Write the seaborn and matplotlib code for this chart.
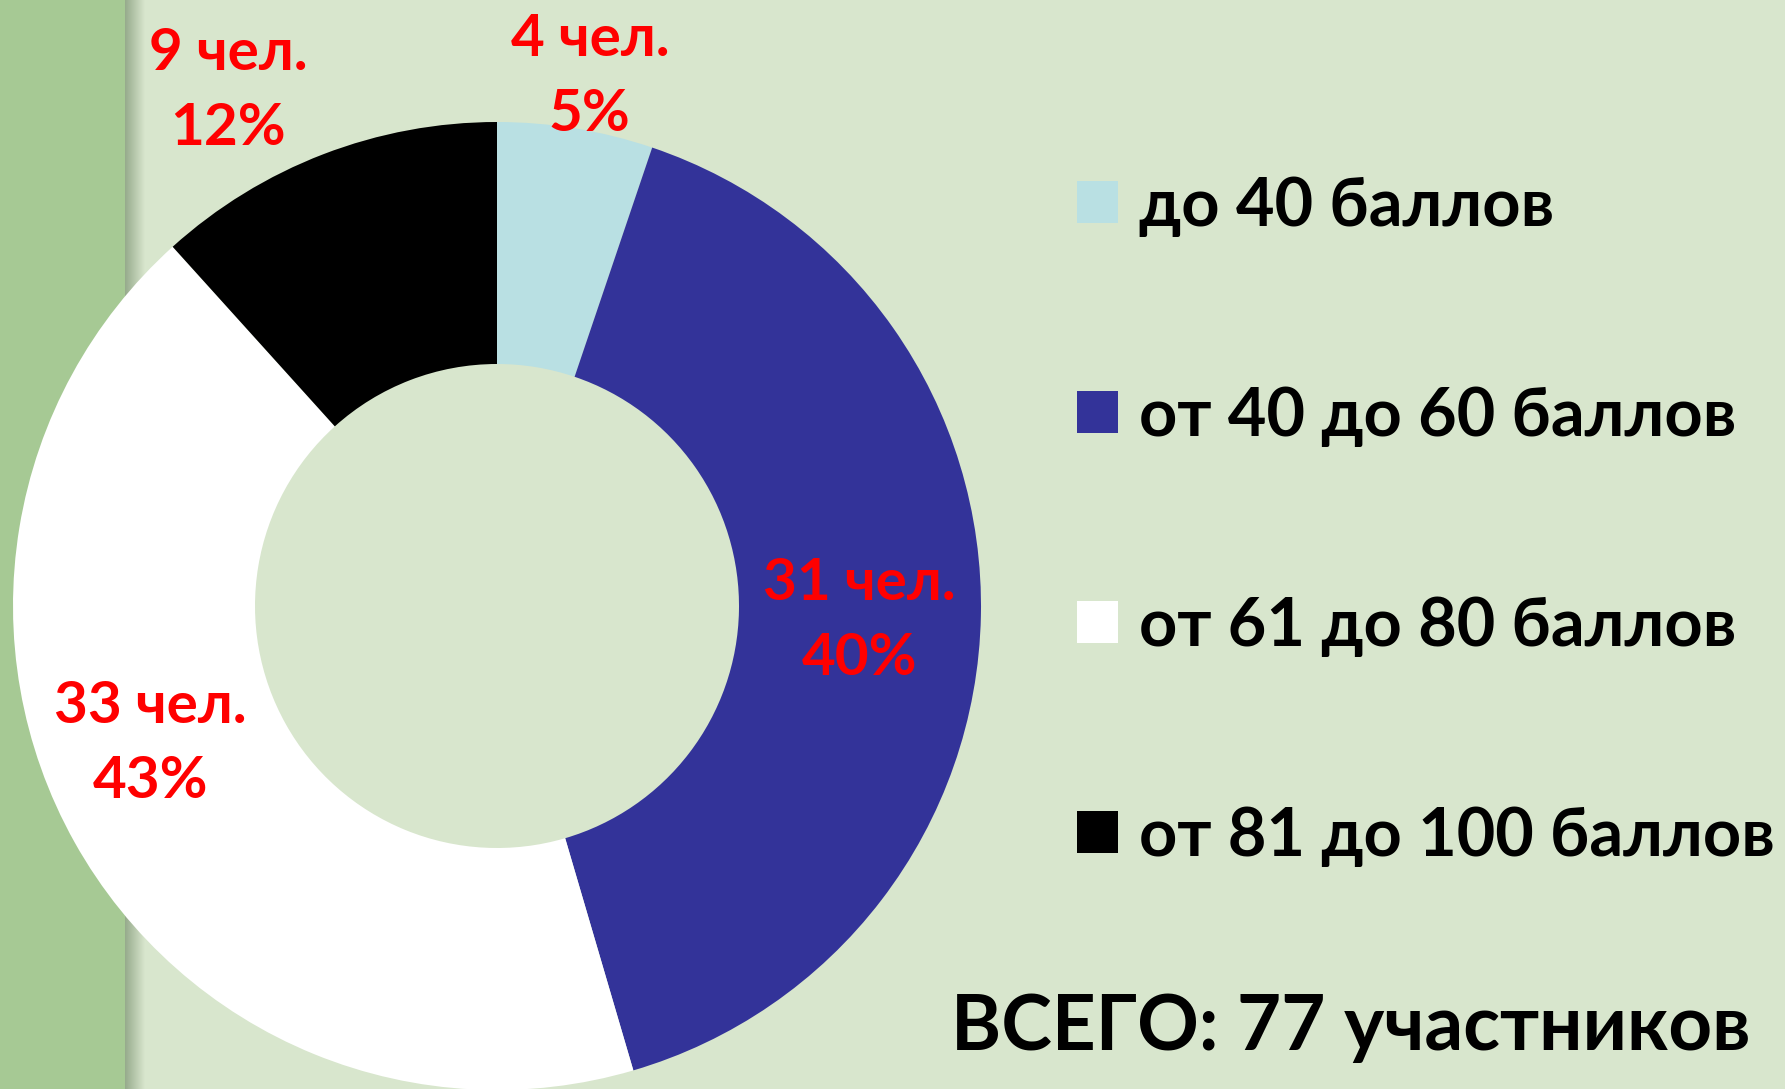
import numpy as np
import matplotlib
matplotlib.use("Agg")
import matplotlib.pyplot as plt
import seaborn as sns

# ---- data ----
categories = ["до 40 баллов", "от 40 до 60 баллов", "от 61 до 80 баллов", "от 81 до 100 баллов"]
counts = [4, 31, 33, 9]
percent_labels = ["5%", "40%", "43%", "12%"]
total_label = "ВСЕГО: 77 участников"

colors = ["#b9e0e3", "#333399", "#ffffff", "#000000"]

sns.set_theme(style="white")
plt.rcParams["font.family"] = ["Lato", "DejaVu Sans"]
plt.rcParams["font.weight"] = "bold"

W, H = 1785, 1089
fig = plt.figure(figsize=(W / 100, H / 100), dpi=100)
fig.patch.set_facecolor("#d8e6cd")

# background: left strip + shadow
bg = fig.add_axes([0, 0, 1, 1])
bg.set_xlim(0, W)
bg.set_ylim(H, 0)
bg.axis("off")
bg.add_patch(plt.Rectangle((0, 0), 125, H, color="#a6c994", lw=0))
grad = np.linspace(0, 1, 64)[None, :]
c0 = np.array([150, 170, 140]) / 255
c1 = np.array([216, 230, 205]) / 255
img = c0[None, None, :] * (1 - grad[..., None]) + c1[None, None, :] * grad[..., None]
bg.imshow(np.repeat(img, 2, axis=0), extent=(125, 145, H, 0), aspect="auto", zorder=1)

# donut
cx, cy, R = 497, 606, 484
ax = fig.add_axes([(cx - R) / W, (H - cy - R) / H, 2 * R / W, 2 * R / H])
ax.set_facecolor("none")
wedges, _ = ax.pie(counts, colors=colors, startangle=90, counterclock=False,
                   radius=1.0, wedgeprops=dict(width=0.5, linewidth=0))
ax.set_xlim(-1, 1)
ax.set_ylim(-1, 1)
ax.set_aspect("equal")
ax.axis("off")

# data labels
label_r = [1.11, 0.75, 0.77, 1.2]
label_dang = [-0.6, -1.2, -7.5, 6.5]
for w, n, p, r, da in zip(wedges, counts, percent_labels, label_r, label_dang):
    ang = np.deg2rad((w.theta1 + w.theta2) / 2 + da)
    x, y = r * np.cos(ang), r * np.sin(ang)
    ax.text(x, y, f"{n} чел.\n{p}", ha="center", va="center", color="#ff0000",
            fontsize=42, fontweight="bold", linespacing=1.5, clip_on=False)

# legend
fs = 48
fpx = fs * 100 / 72
leg = fig.legend(wedges, categories, loc="upper left",
                 bbox_to_anchor=((1077 - 0.9 * fpx) / W, 1 - (203 - 1.31 * fpx) / H),
                 frameon=False,
                 prop=dict(family=["Lato", "DejaVu Sans"], weight="bold", size=fs),
                 handlelength=41 / fpx, handleheight=40 / fpx, handletextpad=0.31,
                 labelspacing=2.22)
for t in leg.get_texts():
    t.set_color("black")

fig.text(1351 / W, 1 - 1028 / H, total_label, ha="center", va="center",
         fontsize=55, fontweight="bold", color="black")

fig.savefig("out.png", dpi=100, facecolor=fig.get_facecolor())
